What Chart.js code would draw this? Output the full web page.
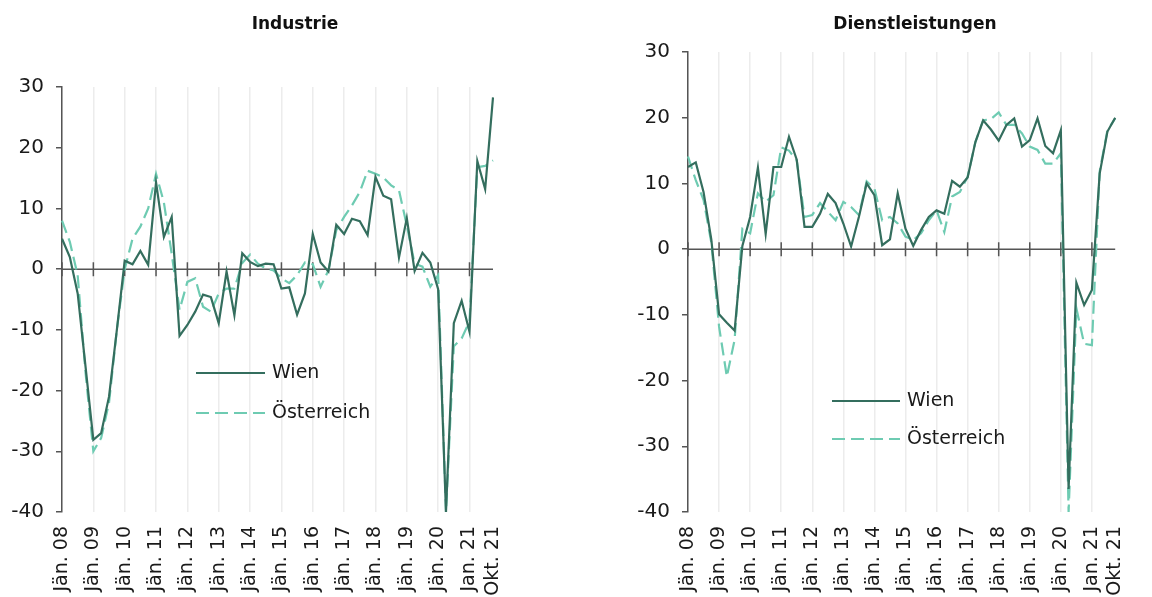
<!DOCTYPE html>
<html lang="de">
<head>
<meta charset="utf-8">
<script src="https://cdn.jsdelivr.net/npm/chart.js@4.4.1/dist/chart.umd.min.js"></script>
<style>
  html, body { margin: 0; padding: 0; background: #fff; overflow: hidden; width: 1152px; height: 597px; }
  .panel { position: absolute; top: 0; height: 620px; }
  .panel h2 {
    position: absolute; top: 13px; margin: 0; white-space: nowrap;
    font: bold 17px "DejaVu Sans", sans-serif; color: #111;
    transform: translateX(-50%);
  }
  canvas { display: block; }
</style>
</head>
<body>
<div class="panel" style="left:0;width:590px">
  <h2 style="left:295px">Industrie</h2>
  <canvas id="industrie" width="590" height="620"></canvas>
</div>
<div class="panel" style="left:590px;width:562px">
  <h2 style="left:325px">Dienstleistungen</h2>
  <canvas id="dienst" width="562" height="620"></canvas>
</div>
<script>
// Quartale Jän. 08 - Okt. 21
const quarters = [
  'Jän. 08', 'Apr. 08', 'Jul. 08', 'Okt. 08', 'Jän. 09', 'Apr. 09', 'Jul. 09', 'Okt. 09',
  'Jän. 10', 'Apr. 10', 'Jul. 10', 'Okt. 10', 'Jän. 11', 'Apr. 11', 'Jul. 11', 'Okt. 11',
  'Jän. 12', 'Apr. 12', 'Jul. 12', 'Okt. 12', 'Jän. 13', 'Apr. 13', 'Jul. 13', 'Okt. 13',
  'Jän. 14', 'Apr. 14', 'Jul. 14', 'Okt. 14', 'Jän. 15', 'Apr. 15', 'Jul. 15', 'Okt. 15',
  'Jän. 16', 'Apr. 16', 'Jul. 16', 'Okt. 16', 'Jän. 17', 'Apr. 17', 'Jul. 17', 'Okt. 17',
  'Jän. 18', 'Apr. 18', 'Jul. 18', 'Okt. 18', 'Jän. 19', 'Apr. 19', 'Jul. 19', 'Okt. 19',
  'Jän. 20', 'Apr. 20', 'Jul. 20', 'Okt. 20', 'Jan. 21', 'Apr. 21', 'Jul. 21', 'Okt. 21'
];

// beschriftete Ticks (Jahresanfang + letzter Wert)
const yearTicks = ['Jän. 08', 'Jän. 09', 'Jän. 10', 'Jän. 11', 'Jän. 12', 'Jän. 13', 'Jän. 14',
  'Jän. 15', 'Jän. 16', 'Jän. 17', 'Jän. 18', 'Jän. 19', 'Jän. 20', 'Jan. 21'];
const endTick = 'Okt. 21';
const shownTicks = yearTicks.concat([endTick]);

const industrieWien = [
  5.0, 2.0, -4.0, -16.0, -28.1, -27.0, -21.0, -10.0,
  1.4, 0.8, 3.0, 0.7, 14.3, 5.3, 8.6, -11.0,
  -9.2, -7.0, -4.2, -4.6, -8.9, -0.4, -7.6, 2.6,
  1.2, 0.5, 0.9, 0.8, -3.2, -3.0, -7.5, -4.0,
  5.8, 1.1, -0.4, 7.3, 5.8, 8.3, 7.9, 5.6,
  15.2, 12.1, 11.5, 1.9, 8.4, -0.3, 2.7, 1.1,
  -3.3, -40.0, -8.9, -5.2, -10.3, 17.8, 13.2, 28.3
];
const industrieOe = [
  8.0, 4.5, -1.0, -17.0, -30.0, -27.8, -22.0, -10.0,
  0.0, 5.0, 7.0, 10.0, 15.7, 11.0, 2.5, -6.7,
  -2.1, -1.5, -6.2, -7.0, -4.0, -3.2, -3.2, 1.0,
  2.4, 0.9, 0.1, -0.2, -1.5, -2.3, -1.0, 1.1,
  0.8, -2.9, -0.2, 6.4, 8.6, 10.5, 12.7, 16.2,
  15.7, 15.1, 13.8, 13.0, 7.2, 0.9, 0.4, -2.9,
  -1.0, -40.0, -12.7, -11.4, -8.6, 16.8, 17.0, 17.9
];
const dienstWien = [
  12.5, 13.2, 8.7, 1.5, -9.9, -11.2, -12.4, 0.5,
  4.9, 12.4, 2.3, 12.5, 12.5, 17.1, 13.6, 3.4,
  3.4, 5.4, 8.4, 7.0, 3.9, 0.4, 4.9, 10.0,
  8.2, 0.6, 1.5, 8.5, 3.1, 0.5, 2.9, 4.9,
  5.9, 5.4, 10.4, 9.5, 10.9, 16.3, 19.6, 18.2,
  16.5, 18.9, 19.9, 15.6, 16.6, 19.9, 15.7, 14.6,
  18.1, -36.5, -5.1, -8.5, -6.2, 11.5, 17.9, 20.0
];
const dienstOe = [
  14.1, 10.5, 7.5, 1.0, -11.8, -19.4, -13.8, 3.1,
  2.4, 8.5, 7.2, 8.2, 15.5, 15.0, 13.5, 4.9,
  5.2, 7.0, 5.7, 4.4, 7.2, 6.4, 5.2, 10.3,
  9.2, 4.4, 4.9, 3.9, 1.9, 1.4, 2.4, 4.4,
  5.9, 2.6, 8.0, 8.7, 11.0, 16.3, 19.6, 19.8,
  20.8, 18.9, 18.9, 17.6, 15.6, 15.1, 13.0, 13.0,
  14.6, -40.0, -9.0, -14.4, -14.6, 11.8, 18.1, 19.9
];

const FONT = '"DejaVu Sans", sans-serif';
const TEXT = '#1a1a1a';
const AXIS = '#555555';
const WIEN_COLOR = '#346e5e';
const OE_COLOR = '#6ecbb2';

Chart.defaults.font.family = FONT;
Chart.defaults.color = TEXT;

// Nulllinie mit Jahres-Ticks
const zeroAxis = {
  id: 'zeroAxis',
  beforeDatasetsDraw(chart) {
    const { ctx, chartArea, scales: { x, y } } = chart;
    const y0 = y.getPixelForValue(0);
    ctx.save();
    ctx.strokeStyle = AXIS;
    ctx.lineWidth = 1.5;
    ctx.beginPath();
    ctx.moveTo(chartArea.left, y0);
    ctx.lineTo(chartArea.right, y0);
    yearTicks.forEach(l => {
      const px = x.getPixelForValue(quarters.indexOf(l));
      ctx.moveTo(px, y0 - 7);
      ctx.lineTo(px, y0 + 7);
    });
    ctx.stroke();
    ctx.restore();
  }
};

// Legende im Diagramm
const seriesKey = {
  id: 'seriesKey',
  afterDatasetsDraw(chart, args, o) {
    const { ctx } = chart;
    chart.data.datasets.forEach((ds, i) => {
      const y = o.y + i * o.gap;
      ctx.save();
      ctx.strokeStyle = ds.borderColor;
      ctx.lineWidth = ds.borderWidth;
      ctx.setLineDash(ds.borderDash || []);
      ctx.beginPath();
      ctx.moveTo(o.x, y);
      ctx.lineTo(o.x + o.len, y);
      ctx.stroke();
      ctx.setLineDash([]);
      ctx.fillStyle = TEXT;
      ctx.font = '19px ' + FONT;
      ctx.textBaseline = 'middle';
      ctx.fillText(ds.label, o.x + o.len + 7, y);
      ctx.restore();
    });
  }
};

function makeChart(id, wien, oe, opts) {
  const ctx = document.getElementById(id).getContext('2d');
  return new Chart(ctx, {
    type: 'line',
    data: {
      labels: quarters,
      datasets: [
        { label: 'Wien', data: wien, borderColor: WIEN_COLOR, borderWidth: 2.2, pointRadius: 0, tension: 0 },
        { label: 'Österreich', data: oe, borderColor: OE_COLOR, borderWidth: 2.2, borderDash: [13, 6], pointRadius: 0, tension: 0 }
      ]
    },
    options: {
      responsive: false,
      animation: false,
      layout: { padding: { top: opts.top, right: opts.right, left: 0, bottom: 0 } },
      plugins: {
        legend: { display: false },
        tooltip: { enabled: false },
        title: { display: false },
        seriesKey: opts.key
      },
      scales: {
        x: {
          offset: false,
          border: { display: false },
          grid: {
            drawTicks: false,
            lineWidth: 1.5,
            color: c => (c.tick && c.tick.label && c.tick.label !== endTick) ? '#ececec' : 'rgba(0,0,0,0)'
          },
          ticks: {
            autoSkip: false,
            minRotation: 90,
            maxRotation: 90,
            padding: 14,
            color: TEXT,
            font: { size: 19 },
            callback: function (v) {
              const l = this.getLabelForValue(v);
              return shownTicks.includes(l) ? l : null;
            }
          },
          afterFit: s => { s.height = 620 - 512; }
        },
        y: {
          min: -40,
          max: 30,
          border: { color: AXIS, width: 1.5 },
          grid: { drawOnChartArea: false, drawTicks: true, tickLength: 6, color: AXIS, lineWidth: 1.5 },
          ticks: { stepSize: 10, padding: 12, color: TEXT, font: { size: 20 } },
          afterFit: s => { s.width = opts.axisWidth; }
        }
      }
    },
    plugins: [zeroAxis, seriesKey]
  });
}

makeChart('industrie', industrieWien, industrieOe, {
  top: 87, right: 97, axisWidth: 62,
  key: { x: 196, y: 373, gap: 40, len: 69 }
});
makeChart('dienst', dienstWien, dienstOe, {
  top: 52, right: 13, axisWidth: 98,
  key: { x: 242, y: 401, gap: 38, len: 68 }
});
</script>
</body>
</html>
